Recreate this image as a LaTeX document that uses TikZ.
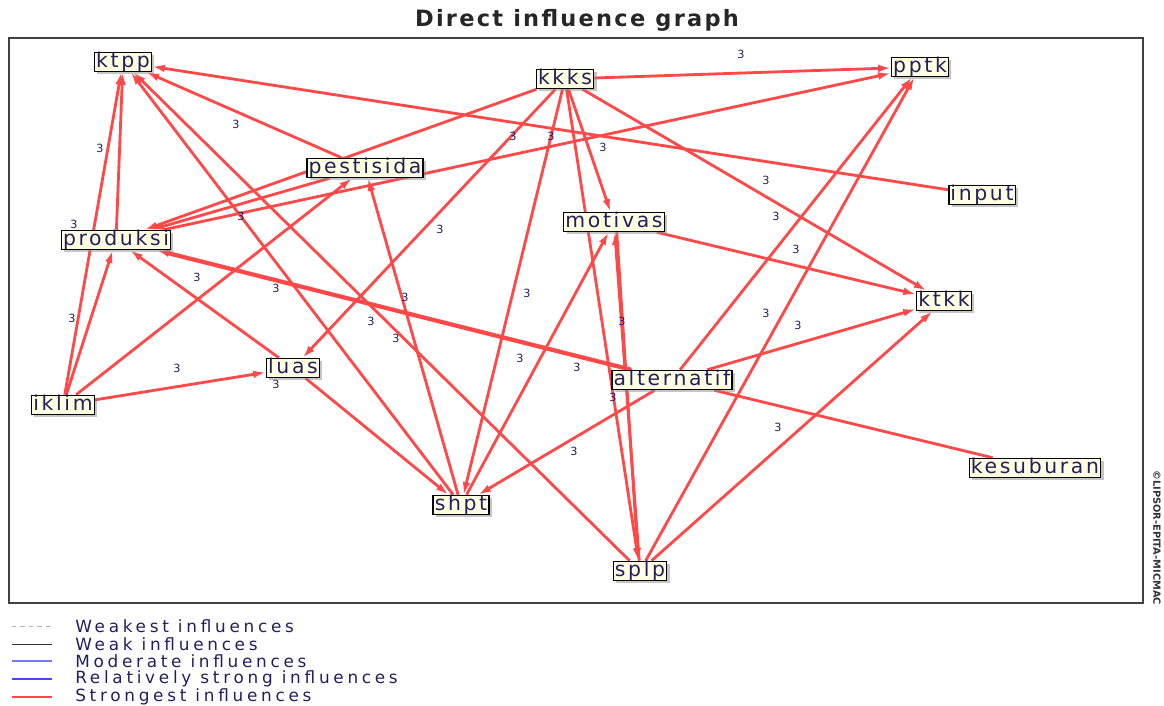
\documentclass[tikz,border=0pt]{standalone}
\usepackage{fontspec}
\setmainfont{DejaVu Sans}
\newfontfamily\boxfont[LetterSpace=13]{DejaVu Sans}
\newfontfamily\legfont[LetterSpace=22]{DejaVu Sans}
\newfontfamily\titlefont[LetterSpace=10]{DejaVu Sans}
\usetikzlibrary{arrows.meta,shadows}
\definecolor{edgered}{RGB}{255,72,72}
\definecolor{boxfill}{RGB}{255,255,226}
\definecolor{boxtext}{RGB}{36,30,96}
\definecolor{framegray}{RGB}{64,64,64}
\definecolor{modblue}{RGB}{120,120,255}
\definecolor{strongblue}{RGB}{70,70,255}
\pgfdeclarelayer{edges}
\pgfsetlayers{edges,main}

\begin{document}
\begin{tikzpicture}[x=0.025cm, y=-0.025cm,
  var/.style={draw, line width=1pt, fill=boxfill, text=boxtext, font=\boxfont\fontsize{14.5}{14.5}\selectfont, inner xsep=1.2pt, inner ysep=0pt, minimum height=0.475cm, text height=10.8pt, text depth=2.8pt, drop shadow={shadow xshift=2pt,shadow yshift=-2pt,fill=black!45}},
  infl/.style={draw=edgered, line width=2pt, -{Latex[length=9pt,width=5.5pt]}},
  val/.style={font=\fontsize{8}{8}\selectfont, text=boxtext, inner sep=0pt},
  leg/.style={font=\legfont\fontsize{12}{12}\selectfont, text=boxtext, anchor=west, inner sep=0pt}]
\useasboundingbox (0,0) rectangle (1164,705);
\node[font=\titlefont\bfseries\fontsize{16}{16}\selectfont, text=black!85] (title) at (577,20) {Direct influence graph};
\draw[framegray, line width=1.4pt] (9,38) rectangle (1143,603);
\node[rotate=-90, anchor=west, font=\bfseries\fontsize{7}{7}\selectfont, text=black!80, inner sep=0pt] (copy) at (1157,470) {©LIPSOR-EPITA-MICMAC};

% variables
\node[var] (ktpp) at (123,62) {ktpp};
\node[var] (kkks) at (565,79) {kkks};
\node[var] (pptk) at (920,67) {pptk};
\node[var] (pestisida) at (365,168) {pestisida};
\node[var] (input) at (982,195) {input};
\node[var] (motivas) at (614,222) {motivas};
\node[var] (produksi) at (116,240) {produksi};
\node[var] (ktkk) at (944,301) {ktkk};
\node[var] (luas) at (293,368) {luas};
\node[var] (alternatif) at (672,380) {alternatif};
\node[var] (iklim) at (63,405) {iklim};
\node[var] (kesuburan) at (1035,468) {kesuburan};
\node[var] (shpt) at (461,505) {shpt};
\node[var] (splp) at (640,571) {splp};

% influences
\begin{pgfonlayer}{edges}
\foreach \a/\b in {produksi/ktpp, iklim/ktpp, input/ktpp, pestisida/ktpp, shpt/ktpp, splp/ktpp,
  kkks/pptk, produksi/pptk, kkks/produksi, pestisida/produksi, kkks/luas, kkks/shpt,
  kkks/motivas, kkks/splp, kkks/ktkk, motivas/ktkk, shpt/motivas, splp/motivas,
  alternatif/pptk, alternatif/ktkk, alternatif/shpt, splp/pptk, splp/ktkk,
  shpt/pestisida, iklim/pestisida, iklim/produksi, iklim/luas, luas/produksi, luas/shpt}
  \draw[infl] (\a) -- (\b);
\draw[infl] (motivas.-75) -- (splp.100);
\draw[infl, line width=3pt] (alternatif) -- (produksi);
\draw[edgered, line width=2pt] (kesuburan) -- (alternatif);
\foreach \x/\y [count=\i] in {741/54, 236/124, 100/148, 513/136, 551/136, 603/147, 766/180,
  776/216, 796/249, 74/224, 241/216, 440/229, 197/277, 276/288, 72/318, 405/297, 527/293,
  622/321, 371/321, 396/338, 766/313, 798/325, 177/368, 520/358, 577/367, 276/384,
  613/397, 574/451, 778/427}
  \node[val] (v\i) at (\x,\y) {3};
\end{pgfonlayer}

% legend
\draw[black!30, line width=0.6pt, dash pattern=on 3pt off 3pt] (12,626) -- (50,626);
\draw[black!80, line width=0.6pt] (12,644) -- (52,644);
\draw[modblue, line width=0.8pt] (12,661) -- (52,661);
\draw[strongblue, line width=1.6pt] (12,679) -- (52,679);
\draw[edgered, line width=2pt] (12,697) -- (52,697);
\node[leg] (weakest) at (75,626) {Weakest influences};
\node[leg] (weak) at (75,644) {Weak influences};
\node[leg] (moderate) at (75,661) {Moderate influences};
\node[leg] (relstrong) at (75,679) {Relatively strong influences};
\node[leg] (strongest) at (75,697) {Strongest influences};
\end{tikzpicture}
\end{document}
